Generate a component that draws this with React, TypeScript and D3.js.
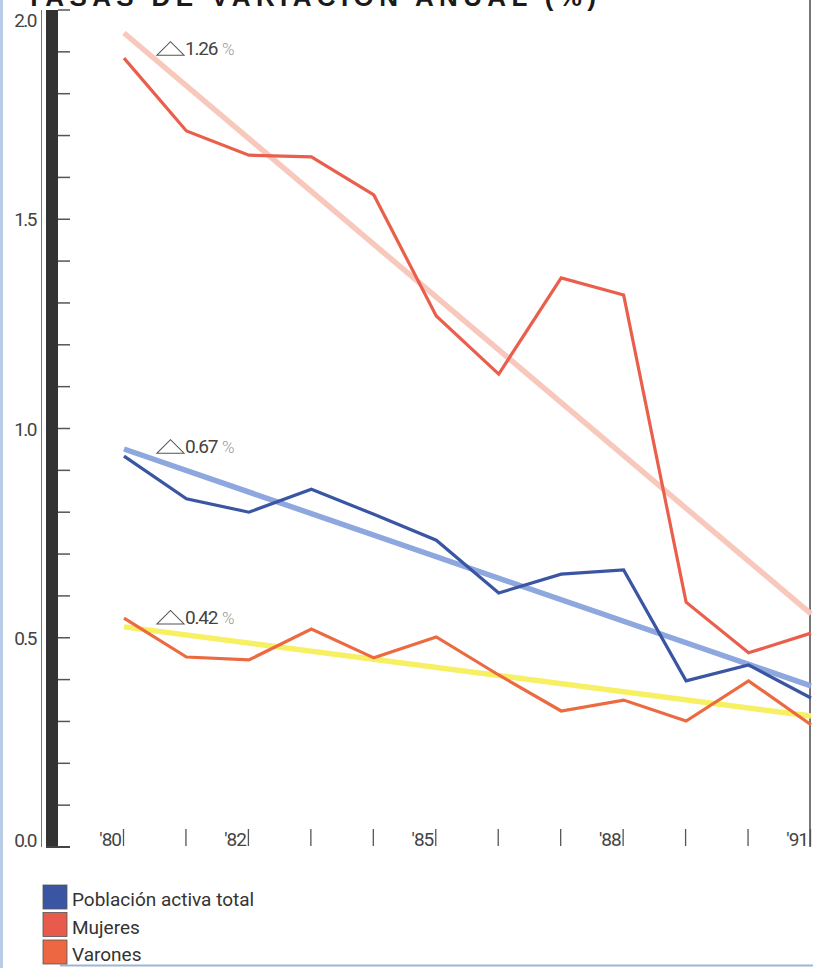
import React from "react";
import * as d3 from "d3";

const years = [1980, 1981, 1982, 1983, 1984, 1985, 1986, 1987, 1988, 1989, 1990, 1991];
const yearLabels: Record<number, string> = { 1980: "'80", 1982: "'82", 1985: "'85", 1988: "'88", 1991: "'91" };

const totalValues = [0.934, 0.832, 0.8, 0.855, 0.795, 0.733, 0.607, 0.652, 0.662, 0.397, 0.435, 0.356];
const mujeresValues = [1.885, 1.711, 1.653, 1.649, 1.558, 1.269, 1.13, 1.36, 1.319, 0.585, 0.464, 0.511];
const varonesValues = [0.547, 0.454, 0.447, 0.521, 0.452, 0.502, 0.411, 0.325, 0.351, 0.301, 0.397, 0.292];

// trend lines: [start 1980, end 1991]
const mujeresTrend = [1.945, 0.557];
const totalTrend = [0.951, 0.385];
const varonesTrend = [0.526, 0.313];

// annotation text and the level (in %) its baseline sits at
const trendLabels = ["1.26", "0.67", "0.42"];
const trendLabelLevels = [1.892, 0.941, 0.533];
const yTickLabels = [0, 0.5, 1.0, 1.5, 2.0];

const legendItems = [
  { label: "Población activa total", color: "#3a56a3" },
  { label: "Mujeres", color: "#e85a4c" },
  { label: "Varones", color: "#ec6742" },
];

const W = 813;
const H = 968;

const App: React.FC = () => {
  const x = d3.scaleLinear().domain([1980, 1991]).range([124, 811]);
  const y = d3.scaleLinear().domain([0, 2]).range([847, 10]);

  const line = d3
    .line<number>()
    .x((_, i) => x(years[i]))
    .y((d) => y(d));

  const trend = (v: number[]) => (
    { x1: x(1980), y1: y(v[0]), x2: x(1991), y2: y(v[1]) }
  );

  const ticks = d3.range(0, 21).map((i) => i / 10);
  const font = "'Roboto', 'Liberation Sans', sans-serif";

  const trends = [
    { t: trend(mujeresTrend), color: "#f7c8bb" },
    { t: trend(totalTrend), color: "#8ea8df" },
    { t: trend(varonesTrend), color: "#f6f062" },
  ];

  return (
    <svg width={W} height={H} style={{ position: "absolute", left: 0, top: 0, background: "#fff" }}>
      {/* scan borders */}
      <rect x={0} y={0} width={3} height={H} fill="#b9cbe6" />
      <line x1={60} x2={W} y1={965.5} y2={965.5} stroke="#9fb4d6" strokeWidth={2} />
      <line x1={810} x2={810} y1={0} y2={847} stroke="#777" strokeWidth={2} />

      {/* title, cut off at top as in the scan */}
      <text x={26} y={6} fontFamily="'Liberation Sans', Arial, sans-serif" fontWeight="bold"
        fontSize={26} fill="#1a1a1a" textLength={570} lengthAdjust="spacing">
        TASAS DE VARIACIÓN ANUAL (%)
      </text>

      {/* y axis */}
      <line x1={41.5} x2={41.5} y1={y(2)} y2={y(0)} stroke="#777" strokeWidth={1} />
      <rect x={46} y={y(2)} width={12} height={y(0) - y(2)} fill="#333" />
      {ticks.map((t) => (
        <line key={t} x1={58} x2={70} y1={y(t)} y2={y(t)} stroke="#555" strokeWidth={1.5} />
      ))}
      <line x1={46} x2={70} y1={y(0)} y2={y(0)} stroke="#444" strokeWidth={2} />
      {yTickLabels.map((t) => (
        <text key={t} x={36} y={y(t) + (t === 2 ? 17 : t === 0 ? 0 : 7)} textAnchor="end"
          fontFamily={font} fontSize={19} fill="#444" letterSpacing={-1.5}>
          {t.toFixed(1)}
        </text>
      ))}

      {/* x axis */}
      {years.map((yr) => (
        <g key={yr}>
          <line x1={x(yr) - 0.5} x2={x(yr) - 0.5} y1={829} y2={846} stroke="#555" strokeWidth={1.3} />
          {yearLabels[yr] && (
            <text x={x(yr) - 3} y={846} textAnchor="end" fontFamily={font}
              fontSize={19} fill="#444" letterSpacing={-1}>
              {yearLabels[yr]}
            </text>
          )}
        </g>
      ))}

      {/* trend lines */}
      {trends.map((d, i) => (
        <line key={i} x1={d.t.x1} y1={d.t.y1} x2={d.t.x2} y2={d.t.y2} stroke={d.color}
          strokeWidth={5.5} />
      ))}

      {/* series */}
      <path d={line(mujeresValues) ?? ""} fill="none" stroke="#ea5f4c" strokeWidth={3.2} />
      <path d={line(totalValues) ?? ""} fill="none" stroke="#3a56a3" strokeWidth={3.2} />
      <path d={line(varonesValues) ?? ""} fill="none" stroke="#ec6a40" strokeWidth={3.2} />

      {/* trend annotations */}
      {trendLabels.map((label, i) => {
        const ty = y(trendLabelLevels[i]);
        const tx = 157;
        return (
          <g key={i}>
            <path d={`M${tx},${ty}L${tx + 13.5},${ty - 13.5}L${tx + 27},${ty}Z`} fill="none"
              stroke="#555" strokeWidth={1.1} />
            <text x={tx + 28} y={ty} fontFamily={font} fontSize={19} fill="#444"
              letterSpacing={-1.2}>
              {label}
            </text>
            <text x={tx + 65} y={ty} fontFamily={font} fontWeight={300} fontSize={17} fill="#999">
              %
            </text>
          </g>
        );
      })}

      {/* legend */}
      {legendItems.map((d, i) => (
        <g key={d.label} transform={`translate(43, ${885 + i * 27.5})`}>
          <rect width={24} height={24} fill={d.color} stroke="#555" strokeWidth={0.8} />
          <text x={29} y={21} fontFamily={font} fontSize={19} fill="#333">
            {d.label}
          </text>
        </g>
      ))}
    </svg>
  );
};

export default App;
